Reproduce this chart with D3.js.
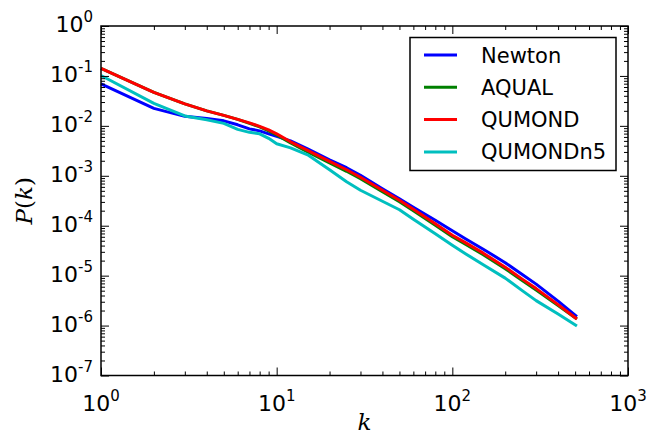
<!DOCTYPE html>
<html>
<head>
<meta charset="utf-8">
<script src="https://cdn.jsdelivr.net/npm/d3@7"></script>
<style>
  body { margin: 0; background: #fff; }
  text { font-family: "DejaVu Sans", sans-serif; }
</style>
</head>
<body>
<div id="chart"></div>
<script>
// wavenumbers
let kValues = [1, 2, 3, 4, 5, 6, 7, 8, 9, 10, 12, 15, 20, 25, 30, 40, 50, 60, 80, 100, 120, 150, 200, 250, 300, 400, 512];

let newton = [6.92e-2, 2.24e-2, 1.55e-2, 1.41e-2, 1.26e-2, 1.05e-2, 8.71e-3, 7.94e-3, 6.92e-3, 6.17e-3, 5.01e-3, 3.47e-3, 2.09e-3, 1.45e-3, 1.02e-3, 5.50e-4, 3.47e-4, 2.34e-4, 1.29e-4, 7.94e-5, 5.37e-5, 3.39e-5, 1.82e-5, 1.05e-5, 6.76e-6, 3.09e-6, 1.51e-6];
let aqual = [1.41e-1, 4.68e-2, 2.75e-2, 2.00e-2, 1.62e-2, 1.35e-2, 1.12e-2, 9.55e-3, 7.94e-3, 6.61e-3, 4.57e-3, 3.02e-3, 1.82e-3, 1.23e-3, 8.71e-4, 4.79e-4, 3.02e-4, 2.00e-4, 1.02e-4, 6.03e-5, 4.17e-5, 2.63e-5, 1.38e-5, 7.94e-6, 5.13e-6, 2.51e-6, 1.35e-6];
let qumond = [1.41e-1, 4.68e-2, 2.75e-2, 2.00e-2, 1.62e-2, 1.35e-2, 1.15e-2, 9.77e-3, 8.32e-3, 6.92e-3, 4.79e-3, 3.24e-3, 1.95e-3, 1.32e-3, 9.33e-4, 5.13e-4, 3.24e-4, 2.14e-4, 1.10e-4, 6.46e-5, 4.47e-5, 2.82e-5, 1.48e-5, 8.51e-6, 5.50e-6, 2.63e-6, 1.35e-6];
let qumondn5 = [1.02e-1, 2.82e-2, 1.58e-2, 1.32e-2, 1.12e-2, 8.51e-3, 7.41e-3, 6.92e-3, 5.62e-3, 4.37e-3, 3.63e-3, 2.63e-3, 1.32e-3, 7.59e-4, 5.13e-4, 3.09e-4, 2.09e-4, 1.35e-4, 6.92e-5, 4.07e-5, 2.69e-5, 1.66e-5, 8.91e-6, 5.01e-6, 3.16e-6, 1.70e-6, 9.77e-7];

let seriesNames = ['Newton', 'AQUAL', 'QUMOND', 'QUMONDn5'];
let seriesColors = ['#0000ff', '#008000', '#ff0000', '#00bfbf'];

let xExponents = [0, 1, 2, 3];
let yExponents = [0, -1, -2, -3, -4, -5, -6, -7];

let width = 648, height = 437;
let margin = { left: 101, right: 20, top: 26, bottom: 61.5 };

let svg = d3.select('#chart').append('svg')
  .attr('width', width)
  .attr('height', height);

let xScale = d3.scaleLog()
  .domain([1, 1000])
  .range([margin.left, width - margin.right]);

let yScale = d3.scaleLog()
  .domain([1e-7, 1])
  .range([height - margin.bottom, margin.top]);

let xMajor = xExponents.map(e => Math.pow(10, e));
let yMajor = yExponents.map(e => Math.pow(10, e));
let xMinor = [], yMinor = [];
xExponents.slice(0, -1).forEach(e => d3.range(2, 10).forEach(m => xMinor.push(m * Math.pow(10, e))));
yExponents.slice(1).forEach(e => d3.range(2, 10).forEach(m => yMinor.push(m * Math.pow(10, e))));

// lines
let line = d3.line()
  .x(d => xScale(d[0]))
  .y(d => yScale(d[1]));

let allSeries = [newton, aqual, qumond, qumondn5];
allSeries.forEach((s, i) => {
  svg.append('path')
    .datum(kValues.map((k, j) => [k, s[j]]))
    .attr('fill', 'none')
    .attr('stroke', seriesColors[i])
    .attr('stroke-width', 3)
    .attr('stroke-linejoin', 'round')
    .attr('d', line);
});

// ticks on all four sides, pointing inward
let plotW = width - margin.left - margin.right;
let plotH = height - margin.top - margin.bottom;

function tickAxis(axisFn, scale, values, size, transform) {
  let g = svg.append('g')
    .attr('transform', transform)
    .call(axisFn(scale).tickValues(values).tickSize(size).tickSizeOuter(0).tickFormat(''));
  g.select('.domain').remove();
  g.selectAll('line').attr('stroke', '#000').attr('stroke-width', 1);
}

tickAxis(d3.axisBottom, xScale, xMajor, -8, `translate(0, ${height - margin.bottom})`);
tickAxis(d3.axisBottom, xScale, xMinor, -4, `translate(0, ${height - margin.bottom})`);
tickAxis(d3.axisTop, xScale, xMajor, -8, `translate(0, ${margin.top})`);
tickAxis(d3.axisTop, xScale, xMinor, -4, `translate(0, ${margin.top})`);
tickAxis(d3.axisLeft, yScale, yMajor, -8, `translate(${margin.left}, 0)`);
tickAxis(d3.axisLeft, yScale, yMinor, -4, `translate(${margin.left}, 0)`);
tickAxis(d3.axisRight, yScale, yMajor, -8, `translate(${width - margin.right}, 0)`);
tickAxis(d3.axisRight, yScale, yMinor, -4, `translate(${width - margin.right}, 0)`);

// frame
svg.append('rect')
  .attr('x', margin.left)
  .attr('y', margin.top)
  .attr('width', plotW)
  .attr('height', plotH)
  .attr('fill', 'none')
  .attr('stroke', '#000')
  .attr('stroke-width', 1.5);

// tick labels 10^n
xExponents.forEach(e => {
  let t = svg.append('text')
    .attr('x', xScale(Math.pow(10, e)))
    .attr('y', 410.5)
    .attr('text-anchor', 'middle')
    .style('font-size', '22px');
  t.append('tspan').text('10');
  t.append('tspan').attr('dy', -10).style('font-size', '15px').text(e);
});

yExponents.forEach(e => {
  let t = svg.append('text')
    .attr('x', 93)
    .attr('y', yScale(Math.pow(10, e)) + 6)
    .attr('text-anchor', 'end')
    .style('font-size', '22px');
  t.append('tspan').text('10');
  t.append('tspan').attr('dy', -10).style('font-size', '15px').text(e);
});

// axis titles
let yTitle = svg.append('text')
  .attr('transform', `translate(32, ${(margin.top + height - margin.bottom) / 2}) rotate(-90)`)
  .attr('text-anchor', 'middle')
  .style('font-family', '"DejaVu Serif", serif')
  .style('font-size', '23px');
yTitle.append('tspan').style('font-style', 'italic').text('P');
yTitle.append('tspan').text('(');
yTitle.append('tspan').style('font-style', 'italic').text('k');
yTitle.append('tspan').text(')');

svg.append('text')
  .attr('x', (margin.left + width - margin.right) / 2)
  .attr('y', 430)
  .attr('text-anchor', 'middle')
  .style('font-family', '"DejaVu Serif", serif')
  .style('font-style', 'italic')
  .style('font-size', '23px')
  .text('k');

// legend
let legend = svg.append('g');
legend.append('rect')
  .attr('x', 410)
  .attr('y', 37.5)
  .attr('width', 206)
  .attr('height', 133)
  .attr('fill', '#fff')
  .attr('stroke', '#000')
  .attr('stroke-width', 1.5);

seriesNames.forEach((name, i) => {
  let y = 55 + i * 32.3;
  legend.append('line')
    .attr('x1', 424).attr('x2', 457)
    .attr('y1', y).attr('y2', y)
    .attr('stroke', seriesColors[i])
    .attr('stroke-width', 3);
  legend.append('text')
    .attr('x', 481)
    .attr('y', y)
    .attr('dy', '0.36em')
    .style('font-size', '21px')
    .text(name);
});
</script>
</body>
</html>
